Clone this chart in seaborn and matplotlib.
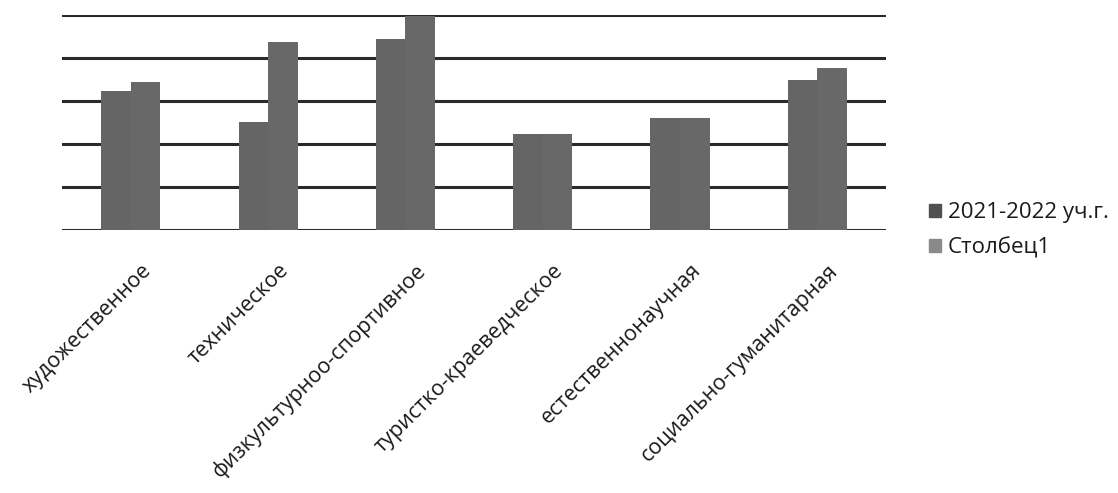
import pandas as pd
import numpy as np
import matplotlib
matplotlib.use('Agg')
import matplotlib.pyplot as plt
import matplotlib.transforms as mtransforms
from matplotlib.patches import Patch
import seaborn as sns

sns.set_theme(style='white')
plt.rcParams['font.family'] = ['Open Sans', 'DejaVu Sans']

# Данные
categories = ['художественное', 'техническое', 'физкультурноо-спортивное',
              'туристко-краеведческое', 'естественнонаучная', 'социально-гуманитарная']
series_names = ['2021-2022 уч.г.', 'Столбец1']
vals_2021 = [3.23, 2.51, 4.44, 2.23, 2.61, 3.49]
vals_col1 = [3.43, 4.38, 4.97, 2.23, 2.61, 3.76]

df = pd.DataFrame({
    'cat': categories * 2,
    'series': [series_names[0]] * len(categories) + [series_names[1]] * len(categories),
    'value': vals_2021 + vals_col1,
})

fig = plt.figure(figsize=(11.18, 4.93), dpi=100)
ax = fig.add_axes([0.0555, 0.533, 0.737, 0.437])

sns.barplot(data=df, x='cat', y='value', hue='series', order=categories,
            hue_order=series_names, palette=['#656565', '#686868'],
            width=0.43, gap=0, ax=ax, legend=False, saturation=1, linewidth=0)

ax.set_ylim(0, 5)
ax.set_yticks(np.arange(0, 6, 1))
ax.set_yticklabels([])
ax.tick_params(axis='both', length=0)
ax.grid(axis='y', color='#2a2a2a', linewidth=2.2)
ax.set_axisbelow(True)
for s in ax.spines.values():
    s.set_visible(False)
ax.set_xlabel('')
ax.set_ylabel('')

# подписи категорий под углом 45°
offset = mtransforms.ScaledTranslation(0.1, -0.25, fig.dpi_scale_trans)
for lbl in ax.get_xticklabels():
    lbl.set_rotation(45)
    lbl.set_ha('right')
    lbl.set_rotation_mode('anchor')
    lbl.set_fontsize(15.5)
    lbl.set_color('#1a1a1a')
    lbl.set_transform(lbl.get_transform() + offset)

handles = [Patch(color='#505050'), Patch(color='#8a8a8a')]
fig.legend(handles, series_names, loc='center left', bbox_to_anchor=(0.813, 0.533),
           frameon=False, fontsize=16, handlelength=0.55, handleheight=0.55,
           handletextpad=0.3, labelspacing=0.6, labelcolor='#1a1a1a')

fig.savefig('out.png', dpi=100)
plt.close()
